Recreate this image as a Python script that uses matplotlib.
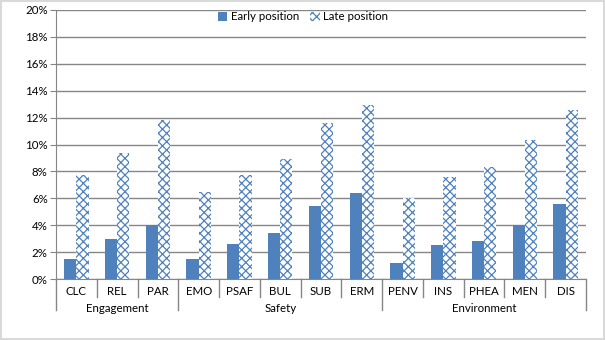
import matplotlib.pyplot as plt
from matplotlib.ticker import PercentFormatter
import matplotlib.transforms as mtransforms

# valores (porcentaje)
categorias = ["CLC", "REL", "PAR", "EMO", "PSAF", "BUL", "SUB", "ERM",
              "PENV", "INS", "PHEA", "MEN", "DIS"]
grupos = ["Engagement", "Safety", "Environment"]
tam_grupos = [3, 5, 5]
temprana = [1.5, 3.0, 4.0, 1.5, 2.6, 3.45, 5.45, 6.4, 1.2, 2.5, 2.8, 4.0, 5.6]
tardia = [7.7, 9.4, 11.8, 6.5, 7.7, 8.9, 11.6, 12.9, 6.0, 7.6, 8.3, 10.3, 12.6]

azul = "#4F81BD"
gris = "#868686"
plt.rcParams["font.family"] = ["Lato", "DejaVu Sans"]
plt.rcParams["hatch.linewidth"] = 0.9
fs = 8.3

fig = plt.figure(figsize=(6.05, 3.4), dpi=100)
fig.patch.set_edgecolor("#D9D9D9")
fig.patch.set_linewidth(1.5)
ax = fig.add_axes([56 / 605, 1 - 279 / 340, 530 / 605, 269 / 340])

x = list(range(len(categorias)))
ancho = 0.3
ax.bar([i - ancho / 2 for i in x], temprana, width=ancho, color=azul,
       label="Early position", zorder=3)
ax.bar([i + ancho / 2 for i in x], tardia, width=ancho, facecolor="white",
       edgecolor=azul, hatch="xxxx", linewidth=0, label="Late position",
       zorder=3)

ax.set_xlim(-0.5, len(categorias) - 0.5)
ax.set_ylim(0, 20)
ax.set_yticks(range(0, 21, 2))
ax.yaxis.set_major_formatter(PercentFormatter(decimals=0))
ax.grid(axis="y", color=gris, linewidth=1, zorder=0)
ax.set_axisbelow(True)
for s in ["top", "right"]:
    ax.spines[s].set_visible(False)
ax.spines["left"].set_color(gris)
ax.spines["bottom"].set_color(gris)
ax.tick_params(axis="y", length=4, color=gris, labelsize=fs, pad=2)
ax.set_xticks(x)
ax.set_xticklabels(categorias)
ax.tick_params(axis="x", length=0, labelsize=fs, pad=5)

# separadores del eje de categorias
trans = mtransforms.blended_transform_factory(ax.transData, ax.transAxes)
bordes = [-0.5]
acum = -0.5
for n in tam_grupos:
    acum += n
    bordes.append(acum)
for k in range(len(categorias) + 1):
    xs = k - 0.5
    y_fin = -31 / 269 if xs in bordes else -18 / 269
    ax.plot([xs, xs], [0, y_fin], transform=trans, color=gris,
            linewidth=1, clip_on=False)

inicio = 0
for g, n in zip(grupos, tam_grupos):
    centro = inicio + (n - 1) / 2
    ax.text(centro, -29 / 269, g, transform=trans, ha="center", va="center",
            fontsize=fs)
    inicio += n

ax.legend(loc="center", bbox_to_anchor=(303 / 605, 1 - 17 / 340),
          bbox_transform=fig.transFigure, ncol=2, frameon=False,
          fontsize=fs, handlelength=0.8, handleheight=0.8,
          handletextpad=0.3, columnspacing=1.0)

fig.savefig("out.png", dpi=100)
